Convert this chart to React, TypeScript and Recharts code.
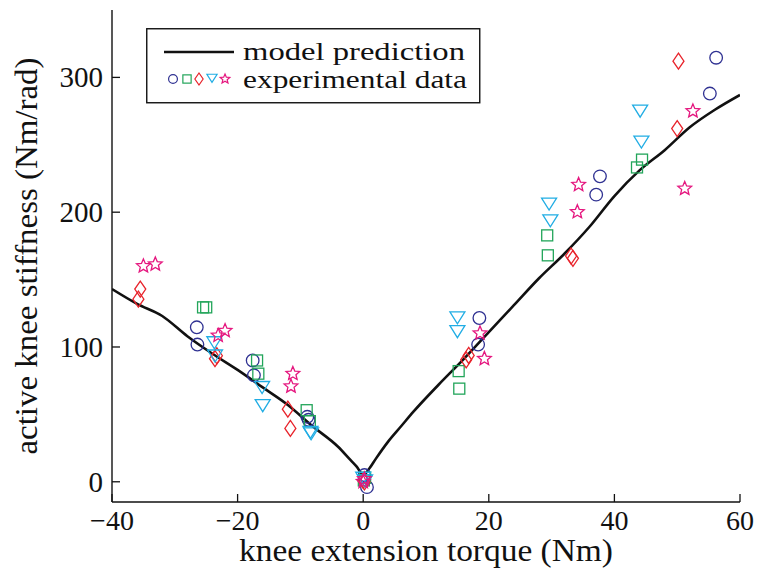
import React from 'react';
import { ComposedChart, Line, Scatter, XAxis, YAxis, Legend, Label } from 'recharts';

const FONT = '"Liberation Serif", "Times New Roman", serif';

const xTicks = [-40, -20, 0, 20, 40, 60];
const yTicks = [0, 100, 200, 300];

const modelLine = [
  { x: -40, y: 143 }, { x: -36, y: 132 }, { x: -32, y: 123 }, { x: -28, y: 108 },
  { x: -24, y: 95 }, { x: -20, y: 83 }, { x: -16, y: 70 }, { x: -12, y: 57 },
  { x: -8, y: 41 }, { x: -4, y: 26 }, { x: -2, y: 16 }, { x: -1, y: 11 },
  { x: 0, y: 5 }, { x: 1, y: 10 }, { x: 2, y: 17 }, { x: 4, y: 30 },
  { x: 6, y: 41 }, { x: 8, y: 52 }, { x: 12, y: 72 }, { x: 16, y: 91 }, { x: 20, y: 111 },
  { x: 24, y: 131 }, { x: 28, y: 151 }, { x: 32, y: 169 }, { x: 36, y: 189 },
  { x: 40, y: 212 }, { x: 44, y: 231 }, { x: 48, y: 246 }, { x: 52, y: 263 },
  { x: 56, y: 276 }, { x: 60, y: 287 },
];

const circles = [
  { x: -26.5, y: 114.6 }, { x: -26.4, y: 101.8 }, { x: -17.6, y: 90 }, { x: -17.4, y: 79 },
  { x: -8.9, y: 48.2 }, { x: -8.7, y: 46 }, { x: 0.2, y: 5 }, { x: 0.6, y: -4 },
  { x: 18.5, y: 121.5 }, { x: 18.3, y: 101.8 }, { x: 37.7, y: 226.6 }, { x: 37.1, y: 213 },
  { x: 56.2, y: 314.6 }, { x: 55.2, y: 288 },
];

const squares = [
  { x: -25.5, y: 129.4 }, { x: -25.0, y: 129.4 }, { x: -16.9, y: 90 }, { x: -16.7, y: 80.2 },
  { x: -9.0, y: 53.1 }, { x: -8.5, y: 45 }, { x: 0.3, y: 3 }, { x: 0.1, y: 1 },
  { x: 15.2, y: 82.1 }, { x: 15.3, y: 69.1 }, { x: 29.3, y: 182.8 }, { x: 29.4, y: 168 },
  { x: 44.4, y: 239 }, { x: 43.6, y: 233.2 },
];

const diamonds = [
  { x: -35.5, y: 143 }, { x: -35.8, y: 135.5 }, { x: -23.6, y: 91.3 }, { x: -23.3, y: 93.5 },
  { x: -12.0, y: 53.9 }, { x: -11.6, y: 39.6 }, { x: 0, y: 1 }, { x: 0.2, y: 0 },
  { x: 16.4, y: 90.5 }, { x: 16.8, y: 93.7 }, { x: 33.1, y: 167.5 }, { x: 33.4, y: 165.8 },
  { x: 50.2, y: 312 }, { x: 50.0, y: 262 },
];

const triangles = [
  { x: -23.7, y: 103.5 }, { x: -23.6, y: 93.7 }, { x: -16.1, y: 70.3 }, { x: -16.0, y: 56.8 },
  { x: -8.3, y: 35.9 }, { x: -8.4, y: 37 }, { x: 0, y: 3 }, { x: 0.3, y: 1 },
  { x: 15.0, y: 122 }, { x: 15.0, y: 111.7 }, { x: 29.6, y: 206.4 }, { x: 29.8, y: 194 },
  { x: 44.1, y: 275.3 }, { x: 44.3, y: 252.4 },
];

const stars = [
  { x: -35, y: 160 }, { x: -33.1, y: 161.4 }, { x: -23.1, y: 108.5 }, { x: -22, y: 112 },
  { x: -11.2, y: 80.2 }, { x: -11.5, y: 70.8 }, { x: 0, y: 0 }, { x: 0.2, y: 2 },
  { x: 18.6, y: 110.2 }, { x: 19.3, y: 91.3 }, { x: 34.3, y: 220.4 }, { x: 34.1, y: 200.2 },
  { x: 52.5, y: 275 }, { x: 51.2, y: 217.5 },
];

const C_CIRCLE = '#2f3192';
const C_SQUARE = '#22a55a';
const C_DIAMOND = '#e8232b';
const C_TRI = '#21ade4';
const C_STAR = '#e5177f';

const starPath = (cx: number, cy: number, R: number) => {
  const r = R * 0.45;
  const pts: string[] = [];
  for (let i = 0; i < 10; i++) {
    const a = -Math.PI / 2 + (i * Math.PI) / 5;
    const rr = i % 2 === 0 ? R : r;
    pts.push(`${cx + rr * Math.cos(a)},${cy + rr * Math.sin(a)}`);
  }
  return `M${pts.join('L')}Z`;
};

const mk = (kind: string, cx: number, cy: number, s: number, color: string, sw = 1.3) => {
  switch (kind) {
    case 'circle':
      return <circle cx={cx} cy={cy} r={6.3 * s} fill="none" stroke={color} strokeWidth={sw} />;
    case 'square':
      return <rect x={cx - 5.5 * s} y={cy - 5.5 * s} width={11 * s} height={11 * s} fill="none" stroke={color} strokeWidth={sw} />;
    case 'diamond':
      return <path d={`M${cx},${cy - 8 * s}L${cx + 5.5 * s},${cy}L${cx},${cy + 8 * s}L${cx - 5.5 * s},${cy}Z`} fill="none" stroke={color} strokeWidth={sw} />;
    case 'tri':
      return <path d={`M${cx - 7.5 * s},${cy - 5.5 * s}L${cx + 7.5 * s},${cy - 5.5 * s}L${cx},${cy + 6.5 * s}Z`} fill="none" stroke={color} strokeWidth={sw} />;
    default:
      return <path d={starPath(cx, cy, 7.2 * s)} fill="none" stroke={color} strokeWidth={sw} />;
  }
};

const shapeOf = (kind: string, color: string) => (p: any) => mk(kind, p.cx, p.cy, 1, color);

const fmt = (v: number) => (v < 0 ? `\u2212${Math.abs(v)}` : `${v}`);

const XTick = (props: any) => {
  const { x, y, payload } = props;
  return (
    <g>
      <line x1={x} x2={x} y1={y} y2={y - 8} stroke="#111" strokeWidth={1.3} />
      <text x={x} y={y + 28} textAnchor="middle" fontFamily={FONT} fontSize={28} fill="#111">
        {fmt(payload.value)}
      </text>
    </g>
  );
};

const YTick = (props: any) => {
  const { x, y, payload } = props;
  return (
    <g>
      <line x1={x} x2={x + 8} y1={y} y2={y} stroke="#111" strokeWidth={1.3} />
      <text x={x - 9} y={y + 10} textAnchor="end" fontFamily={FONT} fontSize={29} fill="#111">
        {fmt(payload.value)}
      </text>
    </g>
  );
};

const LegendBox = () => (
  <svg width={335} height={76} style={{ display: 'block' }}>
    <rect x={0.75} y={0.75} width={333} height={74} fill="#fff" stroke="#111" strokeWidth={1.4} />
    <line x1={18} x2={88} y1={24} y2={24} stroke="#111" strokeWidth={2.6} />
    <text x={97} y={32} fontFamily={FONT} fontSize={26} fill="#111" textLength={222} lengthAdjust="spacingAndGlyphs">
      model prediction
    </text>
    {mk('circle', 27, 51, 0.7, C_CIRCLE, 1.2)}
    {mk('square', 41, 51, 0.75, C_SQUARE, 1.2)}
    {mk('diamond', 53, 51, 0.75, C_DIAMOND, 1.2)}
    {mk('tri', 66, 50, 0.68, C_TRI, 1.2)}
    {mk('star', 79, 51, 0.7, C_STAR, 1.2)}
    <text x={97} y={60} fontFamily={FONT} fontSize={26} fill="#111" textLength={224} lengthAdjust="spacingAndGlyphs">
      experimental data
    </text>
  </svg>
);

export default function App() {
  return (
    <ComposedChart width={754} height={577} margin={{ top: 2, right: 22, left: 0, bottom: 0 }}>
      <XAxis
        type="number"
        dataKey="x"
        domain={[-40, 60]}
        ticks={xTicks}
        allowDataOverflow
        height={83}
        tickSize={0}
        tickMargin={0}
        tickLine={false}
        tick={<XTick />}
        axisLine={{ stroke: '#111', strokeWidth: 1.4 }}
        interval={0}
      >
        <Label
          content={(p: any) => {
            const vb = p.viewBox;
            return (
              <text x={vb.x + vb.width / 2} y={vb.y + 59} textAnchor="middle" fontFamily={FONT} fontSize={31} fill="#111" textLength={374} lengthAdjust="spacingAndGlyphs">
                knee extension torque (Nm)
              </text>
            );
          }}
        />
      </XAxis>
      <YAxis
        type="number"
        dataKey="y"
        domain={[-15, 350]}
        ticks={yTicks}
        allowDataOverflow
        width={104}
        tickSize={0}
        tickMargin={0}
        tickLine={false}
        tick={<YTick />}
        axisLine={{ stroke: '#111', strokeWidth: 1.4 }}
        interval={0}
      >
        <Label
          content={(p: any) => {
            const vb = p.viewBox;
            const cx = vb.x + 29;
            const cy = vb.y + vb.height / 2;
            return (
              <text x={cx} y={cy} transform={`rotate(-90 ${cx} ${cy})`} textAnchor="middle" fontFamily={FONT} fontSize={32} fill="#111" textLength={397} lengthAdjust="spacingAndGlyphs">
                active knee stiffness (Nm/rad)
              </text>
            );
          }}
        />
      </YAxis>
      <Line data={modelLine} dataKey="y" type="monotone" stroke="#111" strokeWidth={2.6} dot={false} isAnimationActive={false} legendType="none" />
      <Scatter data={circles} dataKey="y" shape={shapeOf('circle', C_CIRCLE)} isAnimationActive={false} />
      <Scatter data={squares} dataKey="y" shape={shapeOf('square', C_SQUARE)} isAnimationActive={false} />
      <Scatter data={diamonds} dataKey="y" shape={shapeOf('diamond', C_DIAMOND)} isAnimationActive={false} />
      <Scatter data={triangles} dataKey="y" shape={shapeOf('tri', C_TRI)} isAnimationActive={false} />
      <Scatter data={stars} dataKey="y" shape={shapeOf('star', C_STAR)} isAnimationActive={false} />
      <Legend
        layout="vertical"
        align="center"
        verticalAlign="middle"
        wrapperStyle={{ position: 'absolute', left: 138, top: 20, width: 335, height: 76 }}
        content={() => <LegendBox />}
      />
    </ComposedChart>
  );
}
